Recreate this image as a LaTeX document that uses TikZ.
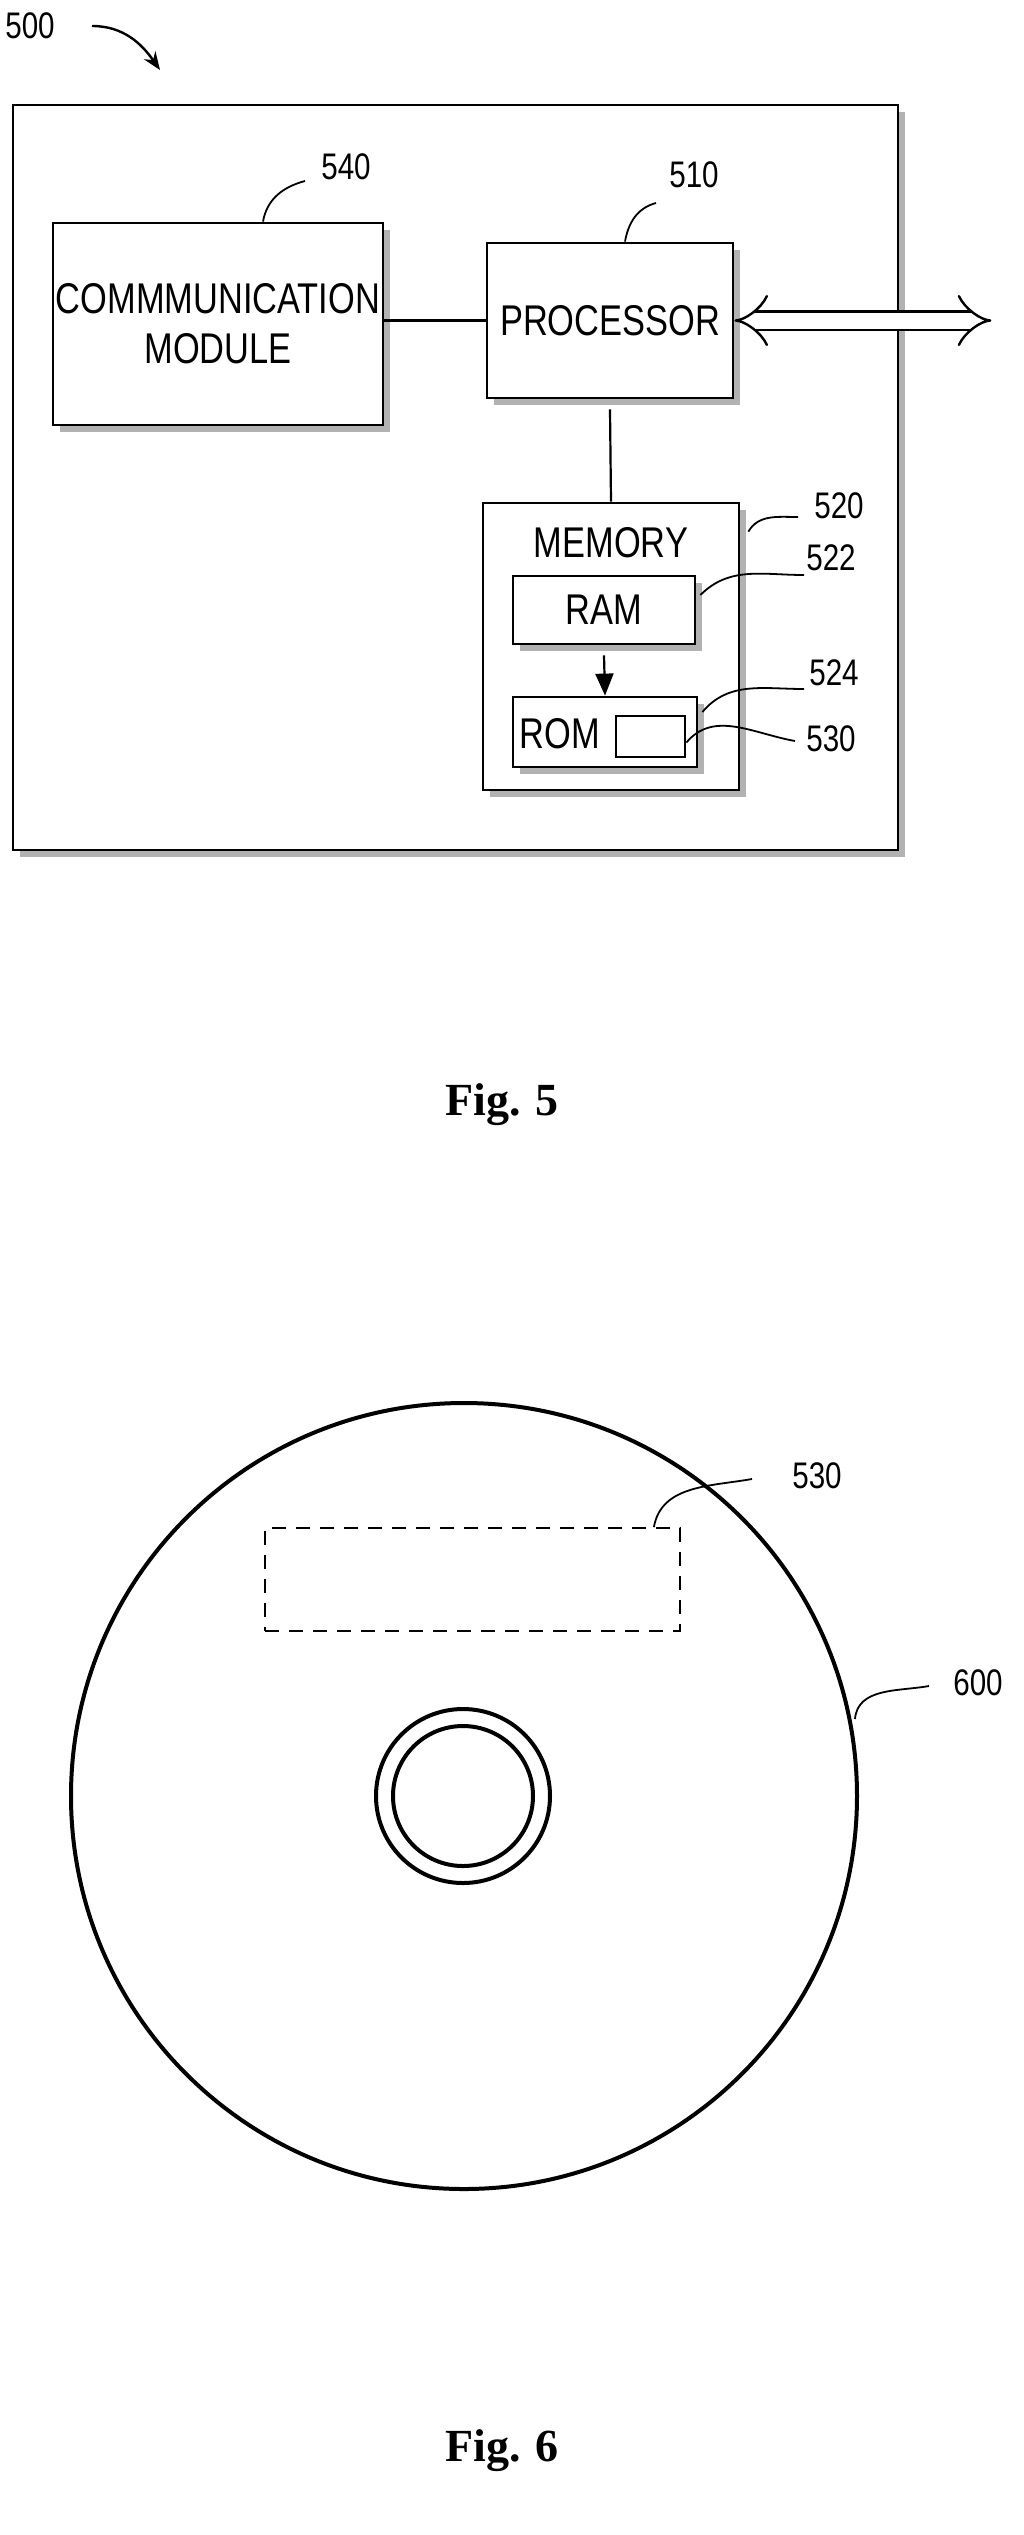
\documentclass[tikz,border=0pt]{standalone}
\usepackage{fontspec}
\setmainfont{Liberation Sans}[FakeStretch=0.8]
\newfontfamily\figfont{Liberation Serif}
\usetikzlibrary{shadows,arrows.meta}

\tikzset{
  blockbox/.style={draw, line width=2.8pt, fill=white, inner sep=0pt, align=center,
    font=\fontsize{43}{50}\selectfont,
    drop shadow={shadow xshift=7pt, shadow yshift=-7pt, fill=gray!60, opacity=1}},
  refnum/.style={font=\fontsize{37}{42}\selectfont, inner sep=1pt},
  leader/.style={line width=1.8pt},
  figcap/.style={font=\figfont\bfseries\fontsize{46}{50}\selectfont}
}

\begin{document}
\begin{tikzpicture}[x=1pt,y=-1pt]
\useasboundingbox (0,0) rectangle (1024,2535);

% Fig. 5 : outer device
\node[blockbox, minimum width=885pt, minimum height=745pt] (dev) at (455.5,477.5) {};
\node[refnum] (n500) at (30,26) {500};
\draw[line width=2.4pt, -{Stealth[length=18pt,width=14pt]}] (92,26) to[out=0,in=125] (160,70);

% blocks
\node[blockbox, minimum width=330pt, minimum height=202pt] (comm) at (218,324) {COMMMUNICATION\\MODULE};
\node[blockbox, minimum width=246pt, minimum height=155pt] (proc) at (610,320.5) {PROCESSOR};
\node[blockbox, minimum width=256pt, minimum height=287pt] (mem) at (611,646.5) {};
\node[font=\fontsize{43}{50}\selectfont] (memlbl) at (611,543) {MEMORY};
\node[blockbox, minimum width=182pt, minimum height=68pt] (ram) at (604,610) {RAM};
\node[blockbox, minimum width=184pt, minimum height=70pt] (rom) at (605,732) {};
\node[font=\fontsize{43}{50}\selectfont, anchor=west] (romlbl) at (516,734) {ROM};
\node[draw, line width=2.8pt, minimum width=69pt, minimum height=41pt, inner sep=0pt] (prog) at (650.5,736.5) {};

% connections
\draw[line width=2.2pt] (proc.west) -- (proc.west -| comm.east) ++(8,0);
\draw[line width=2.2pt] (proc.south) ++(0,10) -- (mem.north);
\draw[line width=2.2pt, -{Triangle[length=22pt,width=18pt]}] (ram.south) ++(0,10) -- (rom.north);
\draw[line width=2.4pt, double=white, double distance=16pt,
  {Implies[]}-{Implies[]}] (proc.east) -- ++(257,0) coordinate (busend);

% reference numerals
\node[refnum] (n540) at (346,167) {540};
\draw[leader] (comm.north) ++(45,0) to[out=80,in=195] (305,181);
\node[refnum] (n510) at (694,175) {510};
\draw[leader] (proc.north) ++(15,0) to[out=80,in=195] (656,203);
\node[refnum] (n520) at (839,506) {520};
\draw[leader] (mem.north east) ++(8,30) to[out=60,in=180] (798,517);
\node[refnum] (n522) at (831,558) {522};
\draw[leader] (ram.east) ++(4,-15) to[out=45,in=180] (804,575);
\node[refnum] (n524) at (834,673) {524};
\draw[leader] (rom.east) ++(4,-20) to[out=50,in=180] (804,689);
\node[refnum] (n530) at (831,739) {530};
\draw[leader] (prog.east) ++(0,6) to[out=50,in=170] (795,741);

\node[figcap] (fig5) at (502,1105) {Fig. 5};

% Fig. 6 : disc
\draw[line width=4pt] (464,1796) circle [radius=393];
\draw[line width=4pt] (463,1796) circle [radius=87];
\draw[line width=4pt] (463,1796) circle [radius=70];
\node[draw, dashed, line width=1.8pt, dash pattern=on 14pt off 10pt,
  minimum width=415pt, minimum height=103pt, inner sep=0pt] (area) at (472.5,1579.5) {};
\node[refnum] (n530b) at (817,1476) {530};
\draw[leader] (area.north east) ++(-27,0) to[out=80,in=190] (752,1479);
\node[refnum] (n600) at (978,1683) {600};
\coordinate (rim) at (855,1719);
\draw[leader] (rim) to[out=85,in=190] (929,1686);

\node[figcap] (fig6) at (502,2451) {Fig. 6};
\end{tikzpicture}
\end{document}
